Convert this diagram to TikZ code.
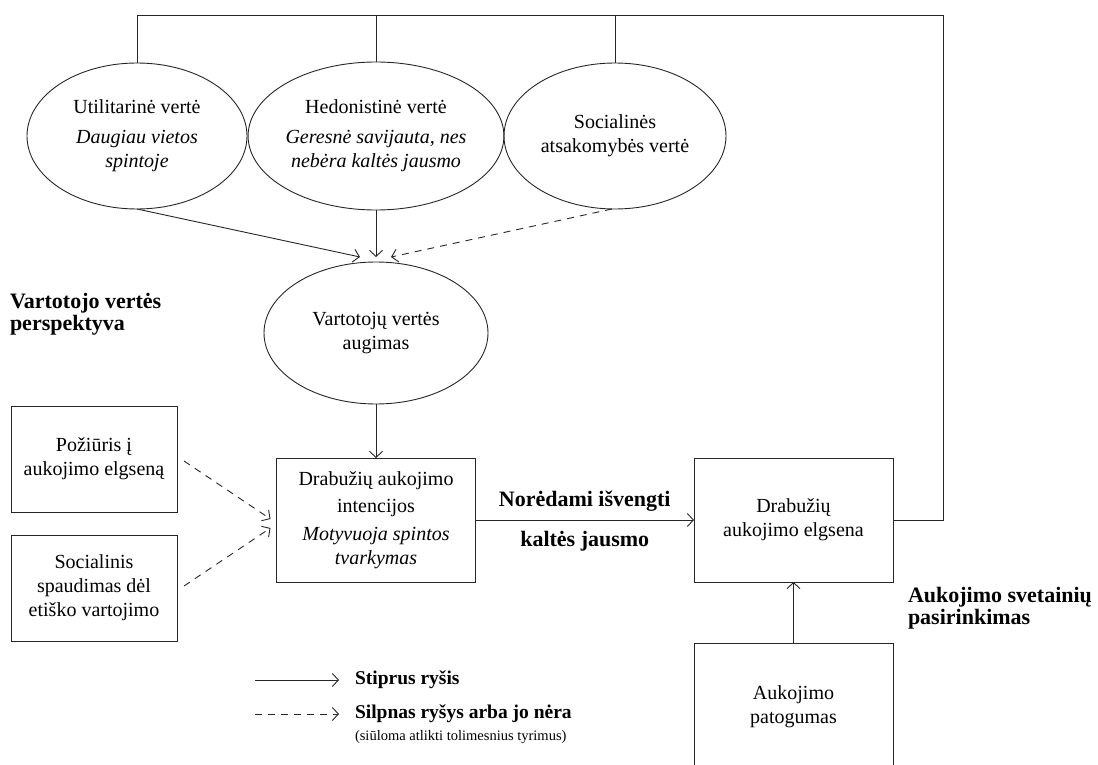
\documentclass[tikz,border=0pt]{standalone}
\usepackage{fontspec}
\setmainfont{Liberation Serif}
\usetikzlibrary{shapes.geometric,arrows.meta}

\begin{document}
\begin{tikzpicture}[x=1pt,y=-1pt,
  every node/.style={inner sep=0pt, outer sep=0pt},
  txt/.style={font=\fontsize{20}{24}\selectfont, align=center},
  oval/.style={txt, draw, ellipse},
  box/.style={txt, draw, rectangle},
  lbl/.style={font=\bfseries\fontsize{22}{22}\selectfont, align=left},
  leg/.style={font=\bfseries\fontsize{19.5}{20}\selectfont, anchor=west},
  link/.style={-{Straight Barb[length=6pt,width=13pt]}, line width=0.9pt, draw=black!85},
  weak/.style={link, dash pattern=on 7pt off 6pt},
  frame/.style={line width=0.9pt, draw=black!85},
]
\useasboundingbox (0,0) rectangle (1098,765);
\clip (0,0) rectangle (1098,765);

% value dimensions
\node[oval, frame, minimum width=220, minimum height=146] (util) at (137,136)
  {Utilitarinė vertė\\[6pt]\textit{Daugiau vietos}\\\textit{spintoje}};
\node[oval, frame, minimum width=221, minimum height=148] (hedo) at (376,136)
  {Hedonistinė vertė\\[6pt]\textit{Geresnė savijauta, nes}\\\textit{nebėra kaltės jausmo}};
\node[oval, frame, minimum width=222, minimum height=146] (soci) at (615,136)
  {Socialinės\\atsakomybės vertė};

% consumer value growth
\node[oval, frame, minimum width=224, minimum height=142] (vart) at (376,333)
  {Vartotojų vertės\\augimas};

% boxes
\node[box, frame, minimum width=166, minimum height=106] (poz) at (94,459)
  {Požiūris į\\aukojimo elgseną};
\node[box, frame, minimum width=166, minimum height=106] (socsp) at (94,588)
  {Socialinis\\spaudimas dėl\\etiško vartojimo};
\node[box, frame, minimum width=199, minimum height=124] (intc) at (376,520)
  {Drabužių aukojimo\\[3pt]intencijos\\[4pt]\textit{Motyvuoja spintos}\\\textit{tvarkymas}};
\node[box, frame, minimum width=199, minimum height=124] (elg) at (793.5,520)
  {Drabužių\\aukojimo elgsena};
\node[box, frame, minimum width=199, minimum height=128] (pat) at (793.5,707)
  {Aukojimo\\patogumas};

% side labels
\node[lbl, anchor=west] (persp) at (10,314) {Vartotojo vertės\\perspektyva};
\node[lbl, anchor=west] (svet) at (908,608) {Aukojimo svetainių\\pasirinkimas};

% feedback line over the top
\coordinate (tr) at (943,15);
\coordinate (tl) at (137,15);
\draw[frame] (elg.east) -| (tr) -- (tl) -- (util.north);
\draw[frame] (hedo.north) -- (hedo.north |- tl);
\draw[frame] (soci.north) -- (soci.north |- tl);

% links into value growth
\draw[link] (util.south) -- ([xshift=-16pt,yshift=5pt]vart.north);
\draw[link] (hedo.south) -- ([yshift=5pt]vart.north);
\draw[weak] ([xshift=-3pt]soci.south) -- ([xshift=15pt,yshift=5pt]vart.north);

\draw[link] (vart.south) -- (intc.north);

\draw[weak] ([xshift=7pt,yshift=-2pt]poz.east) -- ([xshift=-6pt,yshift=1pt]intc.west);
\draw[weak] ([xshift=7pt,yshift=2pt]socsp.east) -- ([xshift=-6pt,yshift=-8pt]intc.west);

\draw[link] (intc.east) -- (elg.west)
  node[lbl, midway, above=9pt] (nor) {Norėdami išvengti}
  node[lbl, midway, below=11pt] (kal) {kaltės jausmo};

\draw[link] (pat.north) -- (elg.south);

% legend
\coordinate (la) at (255,680);
\coordinate (lb) at (339,680);
\coordinate (lc) at (255,714);
\coordinate (ld) at (339,714);
\draw[link] (la) -- (lb);
\draw[weak] (lc) -- (ld);
\node[leg] (leg1) at (355,680) {Stiprus ryšis};
\node[leg] (leg2) at (355,714) {Silpnas ryšys arba jo nėra};
\node[anchor=west, font=\fontsize{14.5}{16}\selectfont] (leg3) at (355,737) {(siūloma atlikti tolimesnius tyrimus)};
\end{tikzpicture}
\end{document}
